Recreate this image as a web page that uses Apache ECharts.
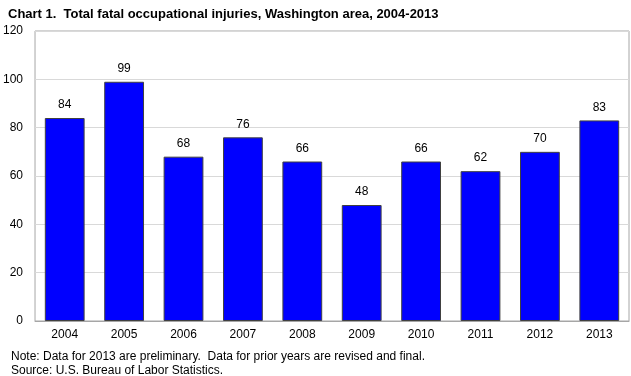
<!DOCTYPE html>
<html>
<head>
<meta charset="utf-8">
<script src="https://cdn.jsdelivr.net/npm/echarts@6/dist/echarts.min.js"></script>
<style>
  html, body { margin: 0; padding: 0; background: #fff; }
  #chart { width: 631px; height: 376px; }
</style>
</head>
<body>
<div id="chart"></div>
<script>
var years = ['2004', '2005', '2006', '2007', '2008', '2009', '2010', '2011', '2012', '2013'];
var fatalities = [84, 99, 68, 76, 66, 48, 66, 62, 70, 83];
var notes = [
  'Note: Data for 2013 are preliminary.  Data for prior years are revised and final.',
  'Source: U.S. Bureau of Labor Statistics.'
];

var myChart = echarts.init(document.getElementById('chart'));
var font = 'Arial, "Liberation Sans", sans-serif';

var option = {
  animation: false,
  textStyle: { fontFamily: font },
  title: {
    text: 'Chart 1.  Total fatal occupational injuries, Washington area, 2004-2013',
    left: 3,
    top: 3,
    textStyle: { fontFamily: font, fontSize: 13, fontWeight: 'bold', color: '#000' }
  },
  graphic: [
    {
      type: 'text',
      left: 11,
      top: 350,
      style: { text: notes.join('\n'), font: '12px ' + font, fill: '#000', lineHeight: 14 }
    }
  ],
  grid: {
    left: 32,
    right: 2,
    top: 31,
    bottom: 55,
    show: true,
    borderColor: '#a6a6a6',
    borderWidth: 1
  },
  xAxis: {
    type: 'category',
    data: years,
    axisLine: { lineStyle: { color: '#a6a6a6' } },
    axisTick: { show: false },
    axisLabel: { color: '#000', fontSize: 12, margin: 8, fontFamily: font }
  },
  yAxis: {
    type: 'value',
    min: 0,
    max: 120,
    interval: 20,
    axisLine: { show: false },
    axisTick: { show: false },
    splitLine: { lineStyle: { color: '#d9d9d9' } },
    axisLabel: { color: '#000', fontSize: 12, margin: 12, fontFamily: font }
  },
  series: [
    {
      type: 'bar',
      data: fatalities,
      barCategoryGap: '33%',
      itemStyle: { color: '#0000ff', borderColor: '#404040', borderWidth: 1 },
      label: { show: true, position: 'top', distance: 7, color: '#000', fontSize: 12, fontFamily: font }
    }
  ]
};
option && myChart.setOption(option);
</script>
</body>
</html>
